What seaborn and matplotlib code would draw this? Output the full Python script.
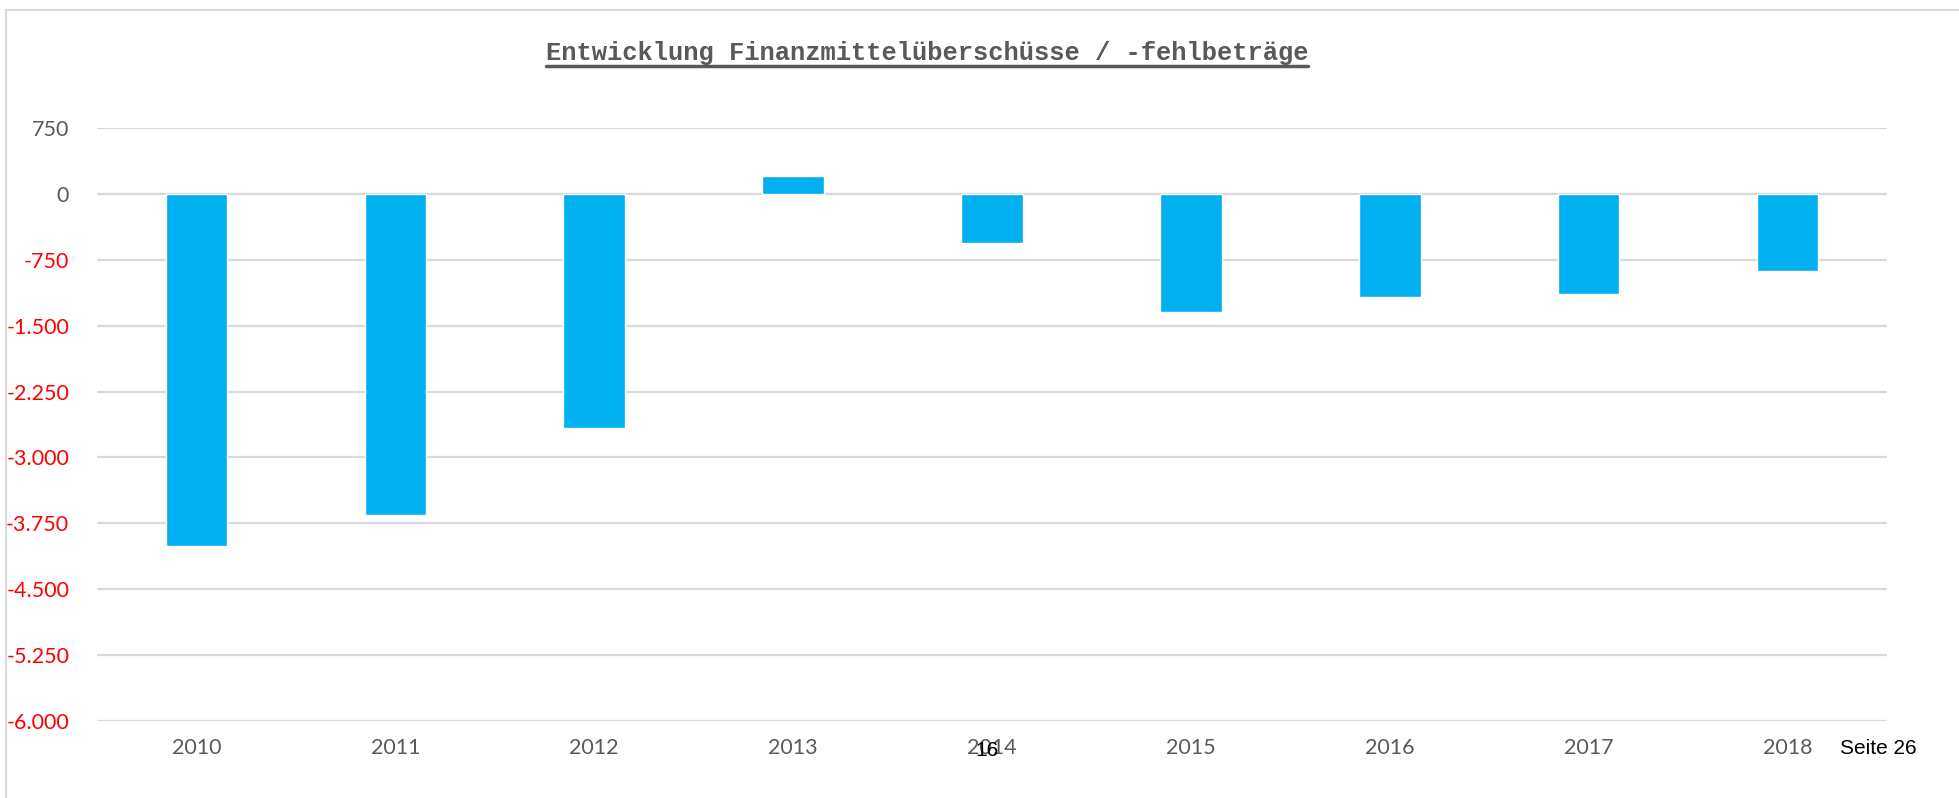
import matplotlib
matplotlib.use("Agg")
import matplotlib.pyplot as plt
from matplotlib.lines import Line2D
from matplotlib.patches import Rectangle
import seaborn as sns
import pandas as pd

# Chart data
years = ["2010", "2011", "2012", "2013", "2014", "2015", "2016", "2017", "2018"]
values = [-4005, -3660, -2660, 205, -560, -1340, -1170, -1140, -875]
y_ticks = [750, 0, -750, -1500, -2250, -3000, -3750, -4500, -5250, -6000]
title = "Entwicklung Finanzmittelüberschüsse / -fehlbeträge"

df = pd.DataFrame({"Jahr": years, "Wert": values})

sns.set_theme(style="white")
plt.rcParams["font.family"] = ["Lato", "DejaVu Sans"]

W, H = 1959, 798
fig = plt.figure(figsize=(W / 100, H / 100), dpi=100)
ax = fig.add_axes([97 / W, 1 - 721 / H, (1887 - 97) / W, (721 - 128) / H])

sns.barplot(data=df, x="Jahr", y="Wert", color="#00B0F0", width=0.31,
            saturation=1, ax=ax)

ax.set_ylim(-6000, 750)
ax.set_yticks(y_ticks)
ax.set_yticklabels([f"{v:,.0f}".replace(",", ".") for v in y_ticks])
for lbl, v in zip(ax.get_yticklabels(), y_ticks):
    lbl.set_color("#FF0000" if v < 0 else "#595959")

ax.yaxis.grid(True, color="#D9D9D9", linewidth=1.6)
ax.set_axisbelow(True)
for s in ax.spines.values():
    s.set_visible(False)
ax.tick_params(axis="y", length=0, pad=20, labelsize=15.5)
ax.tick_params(axis="x", length=0, pad=12, labelsize=15.5, labelcolor="#595959")
ax.set_xlabel("")
ax.set_ylabel("")

# outer chart frame
fig.patches.append(Rectangle((6 / W, -0.1), 1.2, 1 - 10 / H + 0.1,
                             transform=fig.transFigure, fill=False,
                             edgecolor="#D9D9D9", linewidth=1.5))

# title with underline
t = fig.text(927 / W, 1 - 53 / H, title, ha="center", va="center",
             family="Liberation Mono", weight="bold", fontsize=18.4,
             color="#595959")
fig.canvas.draw()
bb = t.get_window_extent()
uy = (H - 66) / H
fig.lines.append(Line2D([bb.x0 / W, bb.x1 / W], [uy, uy], transform=fig.transFigure,
                        color="#595959", linewidth=2.5))

# page footer text
fig.text(987 / W, 1 - 750 / H, "16", ha="center", va="center",
         family="Liberation Sans", fontsize=15, color="black")
fig.text(1878 / W, 1 - 749 / H, "Seite 26", ha="center", va="center",
         family="Liberation Sans", fontsize=15, color="black")

fig.savefig("out.png", dpi=100)
